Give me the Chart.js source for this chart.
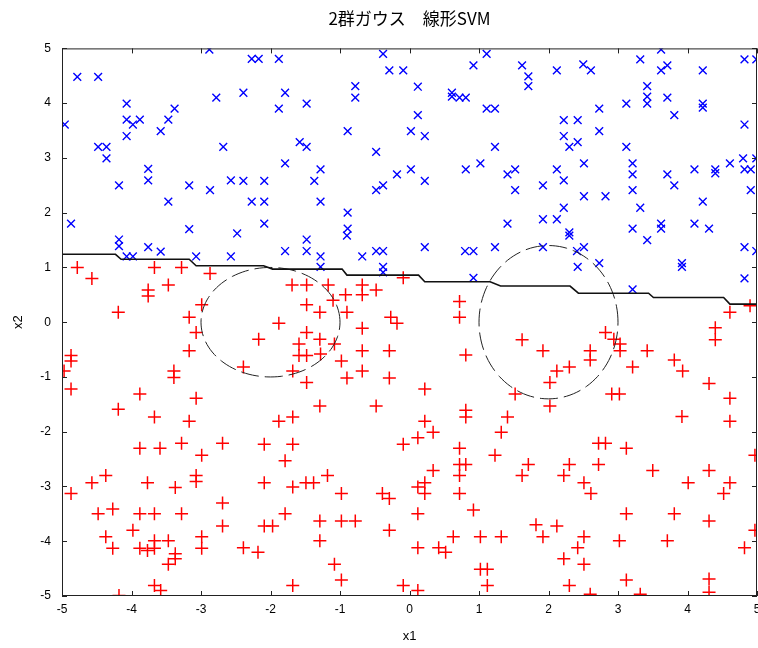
<!DOCTYPE html>
<html>
<head>
<meta charset="utf-8">
<script src="https://cdn.jsdelivr.net/npm/chart.js@4/dist/chart.umd.min.js"></script>
<style>
  body { margin: 0; background: #fff; }
  canvas { display: block; }
</style>
</head>
<body>
<canvas id="svm" width="758" height="648"></canvas>
<script>
const titleText = "2群ガウス　線形SVM";
const tickValues = [-5, -4, -3, -2, -1, 0, 1, 2, 3, 4, 5];

// class 1 (blue x)
const bluePts = [
  [-2.88,4.98],[-4.78,4.48],[-4.48,4.48],[-2.78,4.10],[-4.07,3.99],[-3.38,3.90],[-4.96,3.61],
  [-4.07,3.70],[-3.98,3.61],[-3.88,3.70],[-3.47,3.70],[-3.58,3.49],[-4.07,3.40],[-4.48,3.20],
  [-4.36,3.20],[-4.36,2.99],[-2.68,3.20],[-3.76,2.80],[-3.76,2.59],[-4.18,2.50],[-3.17,2.50],
  [-2.87,2.41],[-2.57,2.59],[-3.47,2.20],[-4.87,1.80],[-3.17,1.70],[-2.48,1.62],
  [-2.27,4.81],[-2.17,4.81],[-1.88,4.81],[-0.38,4.90],[-0.29,4.60],[-0.09,4.60],[-2.39,4.19],
  [-1.79,4.19],[-1.88,3.90],[-1.48,3.99],[-0.78,4.31],[-0.78,4.10],[-0.89,3.49],[0.02,3.49],
  [-1.58,3.29],[-1.48,3.20],[-0.48,3.11],[-1.79,2.90],[-1.28,2.79],[-1.37,2.58],[-2.39,2.58],
  [-2.09,2.58],[-0.18,2.70],[0.02,2.79],[-0.48,2.41],[-0.38,2.50],[-2.27,2.20],[-2.09,2.20],
  [-1.28,2.20],[-0.89,2.00],[-0.89,1.71],[-2.09,1.80],
  [1.11,4.90],[0.92,4.69],[1.62,4.69],[1.71,4.49],[1.71,4.31],[2.12,4.60],[2.50,4.71],[2.61,4.60],
  [0.12,4.30],[0.61,4.19],[0.61,4.12],[0.72,4.10],[0.81,4.10],[1.11,3.90],[1.23,3.90],[0.12,3.78],
  [0.22,3.40],[1.23,3.20],[2.22,3.69],[2.42,3.69],[2.22,3.40],[2.30,3.20],[2.42,3.29],[0.22,2.58],
  [0.81,2.79],[1.02,2.90],[1.41,2.70],[1.52,2.79],[1.52,2.41],[1.92,2.50],[2.12,2.79],[2.22,2.59],
  [2.51,2.90],[2.51,2.30],[2.22,2.09],[1.41,1.80],[1.92,1.88],[2.12,1.88],[2.30,1.64],
  [3.62,4.98],[3.32,4.80],[3.62,4.60],[3.71,4.69],[4.22,4.60],[4.82,4.80],[4.99,4.80],[3.42,4.31],
  [3.42,4.12],[3.42,3.99],[3.71,4.10],[3.12,3.99],[2.73,3.90],[4.22,3.99],[4.22,3.92],[3.81,3.78],
  [4.82,3.61],[2.73,3.49],[3.12,3.20],[3.21,2.90],[3.21,2.70],[3.71,2.70],[3.81,2.50],[4.10,2.79],
  [4.40,2.79],[4.40,2.72],[4.61,2.90],[4.80,2.99],[4.82,2.79],[4.91,2.79],[4.99,2.99],[4.91,2.41],
  [3.21,2.41],[2.82,2.30],[3.32,2.09],[4.22,2.20],[3.21,1.71],[3.62,1.80],[3.62,1.71],[4.10,1.80],
  [4.31,1.71],
  [-4.18,1.51],[-4.18,1.39],[-4.07,1.20],[-3.98,1.20],[-3.76,1.37],[-3.58,1.29],[-3.07,1.20],[-2.57,1.20],
  [-0.90,1.58],[-1.48,1.51],[-1.48,1.30],[-1.79,1.30],[-1.28,1.20],[-1.28,1.01],[-0.68,1.20],
  [-0.48,1.30],[-0.38,1.30],[-0.38,1.01],[-0.38,0.91],
  [0.22,1.37],[0.80,1.30],[0.92,1.30],[1.23,1.37],[1.92,1.37],[2.30,1.58],[2.41,1.30],[2.51,1.37],
  [2.42,1.01],[0.92,0.81],
  [3.42,1.50],[2.73,1.08],[3.92,1.08],[3.92,1.01],[4.82,1.37],[4.99,1.30],[4.82,0.80],[3.21,0.60]
];

// class 2 (red +)
const redPts = [
  [-4.78,1.00],[-4.57,0.80],[-3.67,1.00],[-3.28,1.00],[-2.87,0.89],[-3.47,0.68],[-3.76,0.59],
  [-3.76,0.48],[-4.19,0.18],[-2.99,0.32],[-3.17,0.09],[-3.07,-0.19],[-3.17,-0.52],[-4.87,-0.61],
  [-4.87,-0.71],[-4.97,-0.89],[-4.87,-1.22],[-3.39,-0.89],[-3.39,-1.01],[-3.88,-1.31],[-3.07,-1.39],
  [-4.19,-1.59],
  [-0.09,0.81],[-1.69,0.68],[-1.48,0.68],[-1.17,0.68],[-0.68,0.68],[-0.48,0.59],[-0.92,0.50],
  [-0.68,0.50],[-1.10,0.40],[-1.48,0.32],[-1.29,0.18],[-0.90,0.18],[-1.88,-0.02],[-0.68,-0.11],
  [-0.27,0.09],[-0.18,-0.02],[-1.48,-0.19],[-2.17,-0.31],[-1.59,-0.40],[-1.29,-0.31],[-1.59,-0.61],
  [-1.48,-0.61],[-1.28,-0.58],[-1.08,-0.40],[-0.68,-0.52],[-0.29,-0.52],[-0.98,-0.71],[-2.39,-0.82],
  [-1.68,-0.89],[-0.68,-0.89],[-0.90,-1.02],[-0.29,-1.02],[-1.48,-1.10],[-1.29,-1.53],[-0.48,-1.53],
  [0.72,0.38],[0.72,0.09],[1.62,-0.32],[1.92,-0.52],[0.81,-0.60],[2.30,-0.82],[2.12,-0.89],
  [2.02,-1.10],[0.22,-1.22],[1.52,-1.31],[2.02,-1.53],
  [4.61,0.18],[4.90,0.30],[4.40,-0.10],[4.40,-0.32],[2.82,-0.19],[2.94,-0.31],[3.03,-0.40],
  [3.03,-0.52],[2.60,-0.52],[2.60,-0.69],[3.42,-0.52],[3.21,-0.82],[3.81,-0.69],[3.93,-0.89],
  [4.31,-1.12],[4.61,-1.39],[2.91,-1.31],[3.02,-1.31],[3.92,-1.72],
  [-3.67,-1.73],[-3.17,-1.81],[-3.88,-2.30],[-3.59,-2.30],[-3.28,-2.21],[-2.99,-2.43],[-2.69,-2.21],
  [-4.57,-2.93],[-4.37,-2.80],[-4.87,-3.13],[-3.77,-2.93],[-3.37,-3.02],[-3.07,-2.80],[-3.07,-2.91],
  [-2.69,-3.30],[-4.48,-3.50],[-4.27,-3.41],[-3.88,-3.50],[-3.67,-3.50],[-3.28,-3.50],[-3.98,-3.80],
  [-2.69,-3.72],[-4.37,-3.92],[-4.27,-4.13],[-3.88,-4.13],[-3.77,-4.17],[-3.67,-3.99],[-3.47,-3.99],
  [-3.67,-4.13],[-3.37,-4.23],[-3.37,-4.32],[-3.47,-4.42],[-2.99,-3.92],[-2.99,-4.13],[-3.67,-4.81],
  [-3.58,-4.90],[-4.18,-4.99],
  [-1.68,-1.73],[-1.88,-1.81],[-2.09,-2.23],[-1.68,-2.23],[-1.79,-2.53],[-0.09,-2.23],[-2.09,-2.93],
  [-1.68,-3.01],[-1.49,-2.93],[-1.38,-2.93],[-1.18,-2.80],[-0.98,-3.13],[-0.39,-3.13],[-0.29,-3.22],
  [-1.79,-3.50],[-2.09,-3.72],[-1.97,-3.72],[-1.29,-3.63],[-0.98,-3.63],[-0.78,-3.63],[-0.29,-3.80],
  [-1.29,-3.99],[-2.39,-4.12],[-2.18,-4.20],[-1.08,-4.42],[-0.98,-4.71],[-1.68,-4.81],[-0.09,-4.81],
  [0.81,-1.61],[0.81,-1.73],[1.41,-1.73],[0.22,-1.81],[0.12,-2.11],[0.34,-2.01],[1.32,-2.01],
  [0.72,-2.30],[1.23,-2.43],[0.72,-2.60],[0.81,-2.60],[0.72,-2.80],[0.34,-2.71],[1.71,-2.60],
  [1.62,-2.80],[2.30,-2.60],[2.22,-2.80],[2.51,-2.93],[0.12,-3.01],[0.22,-2.93],[0.22,-3.13],
  [0.72,-3.13],[0.12,-3.50],[0.92,-3.43],[1.82,-3.70],[1.92,-3.92],[2.12,-3.72],[0.63,-3.92],
  [1.02,-3.92],[1.32,-3.92],[0.12,-4.12],[0.42,-4.12],[0.52,-4.20],[2.51,-3.92],[2.42,-4.12],
  [2.22,-4.32],[2.51,-4.42],[1.02,-4.51],[1.12,-4.51],[1.12,-4.81],[0.12,-4.90],[2.30,-4.81],
  [4.61,-1.81],[2.72,-2.21],[2.82,-2.21],[3.12,-2.30],[2.72,-2.60],[4.97,-2.43],[3.50,-2.71],
  [4.31,-2.71],[2.61,-3.13],[4.01,-2.93],[4.61,-2.93],[4.52,-3.13],[3.12,-3.50],[3.81,-3.50],
  [4.31,-3.63],[4.97,-3.80],[3.02,-3.99],[3.71,-3.99],[4.82,-4.12],[3.12,-4.71],[4.31,-4.69],
  [4.31,-4.93],[2.60,-4.97],[3.32,-4.97]
];

// decision boundary (stepped)
const boundaryX = [-5, -4.23, -4.15, -3.17, -3.07, -2.10, -1.97, -0.97, -0.90, 0.13, 0.22, 1.16, 1.31, 2.31, 2.43, 3.44, 3.51, 4.52, 4.61, 5];
const boundaryY = [1.24, 1.24, 1.15, 1.15, 1.03, 1.03, 0.97, 0.97, 0.86, 0.86, 0.74, 0.74, 0.66, 0.66, 0.53, 0.53, 0.45, 0.45, 0.33, 0.33];

// gaussian contours (dashed ellipses)
const contourCX = [-2, 2];
const contourCY = [0, 0];
const contourRX = [1, 1];
const contourRY = [1, 1.4];

function ellipse(i) {
  const pts = [];
  for (let k = 0; k <= 120; k++) {
    const t = (k / 120) * Math.PI * 2;
    pts.push({ x: contourCX[i] + contourRX[i] * Math.cos(t), y: contourCY[i] + contourRY[i] * Math.sin(t) });
  }
  return pts;
}

const toXY = (arr) => arr.map((p) => ({ x: p[0], y: p[1] }));

// MATLAB style box with inward ticks
const boxTicks = {
  id: "boxTicks",
  afterDatasetsDraw(chart) {
    const { ctx, chartArea: a, scales } = chart;
    ctx.save();
    ctx.strokeStyle = "#222";
    ctx.lineWidth = 1;
    ctx.strokeRect(a.left + 0.5, a.top + 0.5, a.right - a.left - 1, a.bottom - a.top - 1);
    ctx.beginPath();
    const len = 5;
    tickValues.forEach((v) => {
      const px = Math.round(scales.x.getPixelForValue(v)) + 0.5;
      ctx.moveTo(px, a.bottom); ctx.lineTo(px, a.bottom - len);
      ctx.moveTo(px, a.top); ctx.lineTo(px, a.top + len);
      const py = Math.round(scales.y.getPixelForValue(v)) + 0.5;
      ctx.moveTo(a.left, py); ctx.lineTo(a.left + len, py);
      ctx.moveTo(a.right, py); ctx.lineTo(a.right - len, py);
    });
    ctx.stroke();
    ctx.restore();
  },
};

const tickFont = { family: "'Liberation Sans', Arial, sans-serif", size: 12 };

new Chart("svm", {
  type: "scatter",
  plugins: [boxTicks],
  data: {
    datasets: [
      {
        label: "boundary",
        data: boundaryX.map((x, i) => ({ x: x, y: boundaryY[i] })),
        showLine: true,
        borderColor: "#111",
        borderWidth: 1.6,
        pointRadius: 0,
        order: 1,
      },
      {
        label: "contour1",
        data: ellipse(0),
        showLine: true,
        borderColor: "#222",
        borderWidth: 1,
        borderDash: [18, 6],
        pointRadius: 0,
        order: 1,
      },
      {
        label: "contour2",
        data: ellipse(1),
        showLine: true,
        borderColor: "#222",
        borderWidth: 1,
        borderDash: [18, 6],
        pointRadius: 0,
        order: 1,
      },
      {
        label: "class1",
        data: toXY(bluePts),
        pointStyle: "crossRot",
        pointRadius: 5.5,
        pointBorderWidth: 1.4,
        borderColor: "#0000ff",
        backgroundColor: "#0000ff",
        order: 2,
      },
      {
        label: "class2",
        data: toXY(redPts),
        pointStyle: "cross",
        pointRadius: 6.5,
        pointBorderWidth: 1.5,
        borderColor: "#ff0000",
        backgroundColor: "#ff0000",
        order: 2,
      },
    ],
  },
  options: {
    responsive: false,
    animation: false,
    layout: { autoPadding: false, padding: { right: 1 } },
    plugins: {
      legend: { display: false },
      tooltip: { enabled: false },
      title: {
        display: true,
        text: titleText,
        fullSize: false,
        color: "#000",
        font: { family: "'Noto Sans CJK JP', sans-serif", size: 17, weight: "normal" },
        padding: { top: 8, bottom: 20 },
      },
    },
    scales: {
      x: {
        type: "linear",
        min: -5,
        max: 5,
        // invisible tick marks give the label gap so the edge padding stays zero
        grid: { display: true, drawOnChartArea: false, drawTicks: true, tickLength: 11, tickColor: "rgba(0,0,0,0)" },
        border: { display: false },
        ticks: { stepSize: 1, color: "#000", font: tickFont, padding: -5, maxRotation: 0 },
        title: { display: true, text: "x1", color: "#000", font: { family: "'Liberation Sans', Arial, sans-serif", size: 13 }, padding: { top: 0, bottom: 4 } },
        afterFit(scale) {
          scale.paddingLeft = 0;
          scale.paddingRight = 0;
          scale.height = 52;
        },
      },
      y: {
        type: "linear",
        min: -5,
        max: 5,
        grid: { display: false },
        border: { display: false },
        ticks: { stepSize: 1, color: "#000", font: tickFont, padding: 3 },
        title: { display: true, text: "x2", color: "#000", font: { family: "'Liberation Sans', Arial, sans-serif", size: 13 }, padding: { top: 11, bottom: 0 } },
        afterFit(scale) {
          scale.width = 62;
        },
      },
    },
  },
});
</script>
</body>
</html>
